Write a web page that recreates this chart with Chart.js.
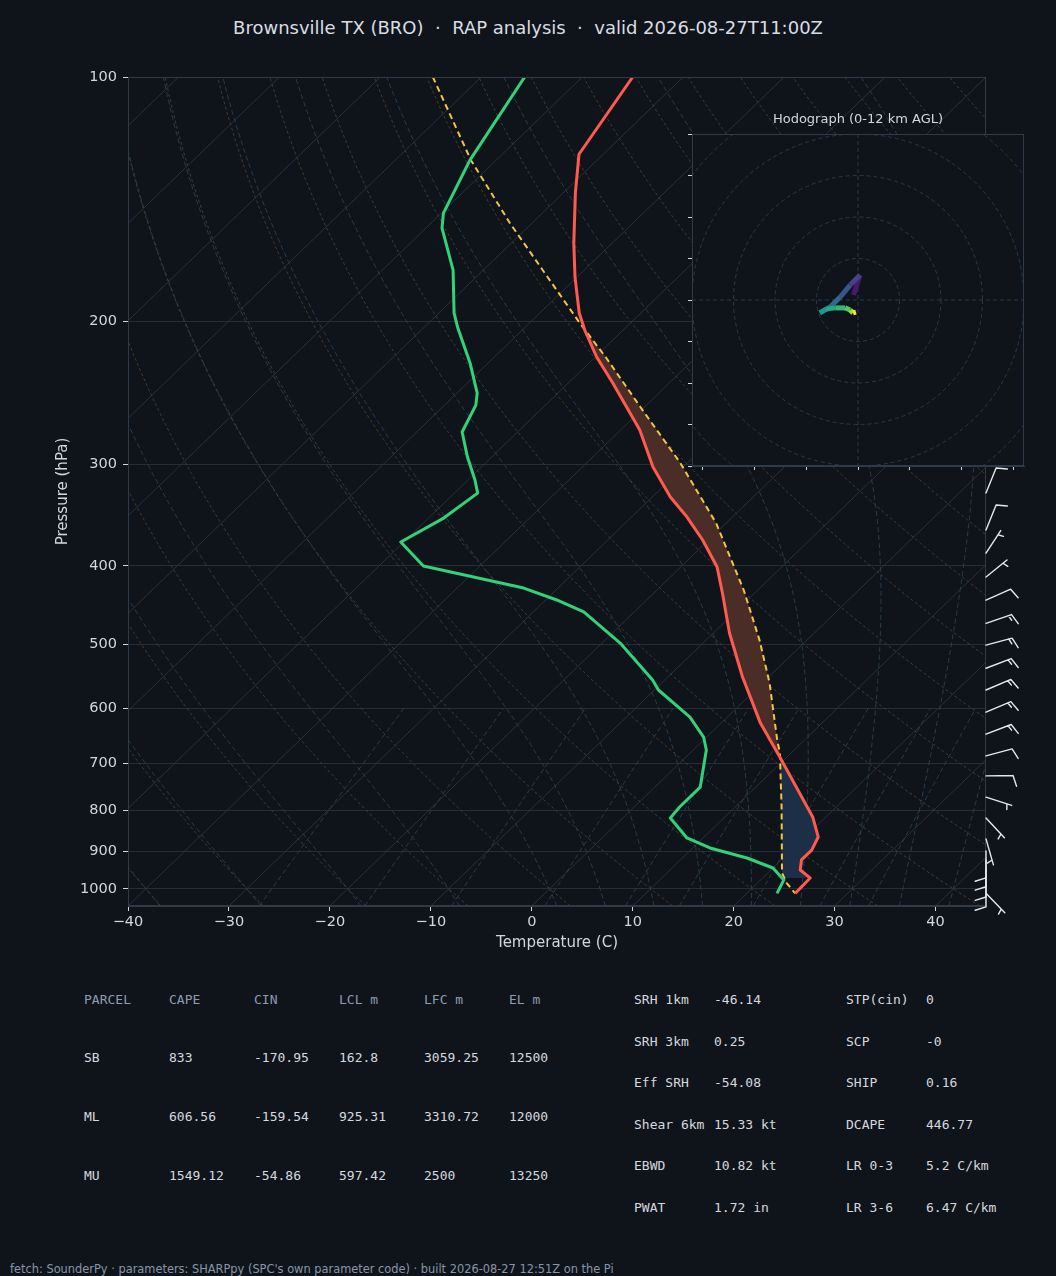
<!DOCTYPE html>
<html>
<head>
<meta charset="utf-8">
<script src="https://cdn.jsdelivr.net/npm/chart.js@4.4.1/dist/chart.umd.min.js"></script>
<style>
  html, body { margin: 0; padding: 0; background: #0f141b; }
  body { width: 1056px; height: 1276px; position: relative; overflow: hidden; font-family: "DejaVu Sans", sans-serif; }
  #titulo { position: absolute; left: 0; top: 17px; width: 1056px; text-align: center; color: #d8dde3; font-size: 18px; white-space: pre; }
  #skewt { position: absolute; left: 0; top: 0; }
  #hodo { position: absolute; left: 680px; top: 100px; }
  .celda { position: absolute; font-family: "DejaVu Sans Mono", monospace; font-size: 13px; line-height: 16px; color: #d5d9df; white-space: pre; }
  .cabecera { color: #8d9cb0; }
  #pie { position: absolute; left: 10px; top: 1262px; font-size: 11.4px; line-height: 14px; color: #8796a9; white-space: pre; }
</style>
</head>
<body>
<div id="titulo">Brownsville TX (BRO)  ·  RAP analysis  ·  valid 2026-08-27T11:00Z</div>
<canvas id="skewt" width="1056" height="960"></canvas>
<canvas id="hodo" width="360" height="380"></canvas>
<div id="tablas"></div>
<div id="pie">fetch: SounderPy · parameters: SHARPpy (SPC's own parameter code) · built 2026-08-27 12:51Z on the Pi</div>
<script>
// --- datos del sondeo ---
const tempP = [100, 124.5, 138.9, 160.2, 176.4, 195.3, 205, 221.1, 238.2, 272.2, 302.3, 329.2, 348.4, 371.8, 401.4, 432.2, 484.1, 548.4, 625, 688.2, 815.6, 863.3, 896, 921.4, 948, 969.7, 1013];
const tempC = [-75.0, -72.4, -68.8, -63.8, -60.2, -56.1, -53.8, -49.9, -45.6, -38.1, -33.0, -28.2, -24.5, -20.6, -16.4, -13.2, -8.4, -2.6, 3.9, 9.3, 18.7, 21.3, 22.0, 22.0, 22.9, 24.7, 24.8];

const dewP = [100, 126.6, 147.1, 153.5, 172.9, 195.3, 203.3, 225, 245.1, 253.6, 273.7, 293.9, 313.7, 325.5, 349.4, 373.9, 400.3, 413, 426.1, 440.8, 456, 498.1, 553.1, 569, 614.4, 650.2, 674.6, 749.4, 793, 818, 865.8, 890.6, 916.3, 942.7, 975.2, 1013];
const dewC = [-85.7, -82.6, -79.8, -78.4, -73.0, -68.5, -66.7, -61.8, -58.0, -56.9, -55.5, -52.4, -49.3, -47.7, -48.5, -50.3, -45.6, -39.5, -33.4, -28.9, -25.0, -18.2, -11.2, -9.6, -3.7, -0.3, 1.3, 4.5, 4.5, 4.7, 8.4, 11.7, 16.4, 20.0, 22.3, 23.0];

const parcelP = [100, 126.6, 151.3, 177.9, 201, 221.9, 255, 298.9, 354.4, 428.5, 493.9, 557.9, 655.8, 680.4, 793, 956, 983.8, 1013];
const parcelC = [-94.8, -82.5, -72.2, -62.4, -55.0, -48.8, -40.4, -30.7, -21.0, -11.4, -4.7, 0.7, 7.3, 8.9, 14.6, 21.4, 22.9, 24.8];

// limites de CAPE y CIN (hPa)
const capeTope = 207, capeBase = 688;
const cinTope = 688, cinBase = 970;

// barbas de viento: presion, direccion (grados), velocidad (kt)
const barbP = [325.5, 361.5, 386, 413, 441, 471, 501, 535, 569, 606, 645, 686, 726, 771, 818, 868, 898, 921, 948, 975, 1013];
const barbDir = [22, 22, 33, 51, 66, 71, 75, 69, 67, 67, 69, 75, 89, 108, 137, 164, 180, 180, 180, 180, 136];
const barbVel = [10, 10, 5, 5, 10, 15, 15, 15, 15, 15, 15, 10, 10, 5, 5, 5, 10, 10, 10, 10, 5];

// hodografa (kt) y altura (km)
const hodoU = [-1.1, -0.3, 0.5, -1.9, -4.3, -6.7, -9.2, -7.7, -5.5, -3.1, -1.9, -1.2, -0.5];
const hodoV = [1.2, 3.6, 6.0, 3.6, 0.7, -1.7, -3.1, -2.2, -1.9, -1.9, -2.4, -3.1, -2.9];
const hodoH = [0, 0.5, 1, 2, 3, 4, 5, 6, 7, 8, 9, 10.5, 12];

const ticksT = [-40, -30, -20, -10, 0, 10, 20, 30, 40];
const ticksP = [100, 200, 300, 400, 500, 600, 700, 800, 900, 1000];
const ticksHodoX = [-37.5, -25, -12.5, 0, 12.5, 25, 37.5];
const ticksHodoY = [-40, -30, -20, -10, 0, 10, 20, 30, 40];
const anillos = [10, 20, 30, 40, 50];

const cabParcela = ['PARCEL', 'CAPE', 'CIN', 'LCL m', 'LFC m', 'EL m'];
const filasParcela = [
    ['SB', '833', '-170.95', '162.8', '3059.25', '12500'],
    ['ML', '606.56', '-159.54', '925.31', '3310.72', '12000'],
    ['MU', '1549.12', '-54.86', '597.42', '2500', '13250']
];
const indicesA = [['SRH 1km', '-46.14'], ['SRH 3km', '0.25'], ['Eff SRH', '-54.08'], ['Shear 6km', '15.33 kt'], ['EBWD', '10.82 kt'], ['PWAT', '1.72 in']];
const indicesB = [['STP(cin)', '0'], ['SCP', '-0'], ['SHIP', '0.16'], ['DCAPE', '446.77'], ['LR 0-3', '5.2 C/km'], ['LR 3-6', '6.47 C/km']];

const FONDO = '#0f141b';
const TEXTO = '#d3d7dc';
const MARCO = '#2f3a48';
const viridis = ['#440154', '#481a6c', '#472f7d', '#414487', '#39568c', '#31688e', '#2a788e', '#23888e', '#1f988b', '#22a884', '#35b779', '#54c568', '#7ad151', '#a5db36', '#d2e21b', '#fde725'];

// --- geometria skew-T ---
const P_BOT = 1050, P_TOP = 100, T_MIN = -40, T_MAX = 45;
function sesgo(t, p) {
    const frac = Math.log(P_BOT / p) / Math.log(P_BOT / P_TOP);
    return t + (T_MAX - T_MIN) * frac;
}
const aPuntos = (temps, press) => temps.map((t, i) => ({ x: sesgo(t, press[i]), y: press[i] }));

function interpLogP(temps, press, p) {
    for (let i = 0; i < press.length - 1; i++) {
        if (p >= press[i] && p <= press[i + 1]) {
            const f = Math.log(p / press[i]) / Math.log(press[i + 1] / press[i]);
            return temps[i] + f * (temps[i + 1] - temps[i]);
        }
    }
    return temps[temps.length - 1];
}

function franja(pTop, pBot) {
    const lado = (temps, press) => {
        const pts = [{ x: sesgo(interpLogP(temps, press, pTop), pTop), y: pTop }];
        press.forEach((p, i) => { if (p > pTop && p < pBot) pts.push({ x: sesgo(temps[i], p), y: p }); });
        pts.push({ x: sesgo(interpLogP(temps, press, pBot), pBot), y: pBot });
        return pts;
    };
    return lado(parcelC, parcelP).concat(lado(tempC, tempP).reverse());
}

// niveles para las lineas de referencia
const nivelesP = [];
for (let i = 0; i <= 48; i++) nivelesP.push(P_BOT * Math.pow(P_TOP / P_BOT, i / 48));

const RD = 287.04749, CP = 1004.6662, LV = 2.50084e6, EPS = 0.62195;
function dTdp(p, T) {
    const es = 6.112 * Math.exp(17.67 * (T - 273.15) / (T - 29.65));
    const rs = EPS * es / (p - es);
    return (RD * T + LV * rs) / (CP + LV * LV * rs * EPS / (RD * T * T)) / p;
}
function integrar(T, pa, pb) {
    const n = Math.max(1, Math.ceil(Math.abs(pb - pa) / 4));
    const h = (pb - pa) / n;
    let p = pa;
    for (let k = 0; k < n; k++) {
        const k1 = dTdp(p, T), k2 = dTdp(p + h / 2, T + h * k1 / 2);
        const k3 = dTdp(p + h / 2, T + h * k2 / 2), k4 = dTdp(p + h, T + h * k3);
        T += h * (k1 + 2 * k2 + 2 * k3 + k4) / 6;
        p += h;
    }
    return T;
}
function adiabataHumeda(t0) {
    const abajo = nivelesP.filter(q => q > 1000).map(q => ({ x: sesgo(integrar(t0 + 273.15, 1000, q) - 273.15, q), y: q }));
    let T = t0 + 273.15, p = 1000;
    const arriba = [];
    nivelesP.filter(q => q <= 1000).forEach(q => {
        T = integrar(T, p, q); p = q;
        arriba.push({ x: sesgo(T - 273.15, q), y: q });
    });
    return abajo.concat(arriba);
}

const fondo = [];
for (let t = -120; t <= 40; t += 10) {
    fondo.push({ data: [{ x: sesgo(t, P_BOT), y: P_BOT }, { x: sesgo(t, P_TOP), y: P_TOP }], borderColor: '#2a3139', borderWidth: 1, order: 20 });
}
for (let th = -40; th <= 200; th += 10) {
    const pts = nivelesP.map(p => ({ x: sesgo((th + 273.15) * Math.pow(p / 1000, RD / CP) - 273.15, p), y: p }));
    fondo.push({ data: pts, borderColor: '#463a2d', borderWidth: 1, borderDash: [3, 2.5], order: 19 });
}
[-40, -30, -20, -10, 0, 5, 10, 15, 20, 25, 30, 35, 40, 45].forEach(t0 => {
    fondo.push({ data: adiabataHumeda(t0), borderColor: '#283c48', borderWidth: 1, borderDash: [5, 3], order: 18 });
});
[0.0004, 0.001, 0.002, 0.004, 0.007, 0.01, 0.016, 0.024, 0.032].forEach(w => {
    const pts = [1050, 1000, 950, 900, 850, 800, 750, 700, 650, 600].map(p => {
        const e = p * w / (EPS + w);
        const l = Math.log(e / 6.112);
        return { x: sesgo(243.5 * l / (17.67 - l), p), y: p };
    });
    fondo.push({ data: pts, borderColor: '#283c48', borderWidth: 1, borderDash: [5, 3], order: 17 });
});

const perfiles = [
    { data: franja(capeTope, capeBase), fill: 'shape', backgroundColor: '#4a2d26', borderWidth: 0, order: 8 },
    { data: franja(cinTope, cinBase), fill: 'shape', backgroundColor: '#1d2e47', borderWidth: 0, order: 8 },
    { data: aPuntos(parcelC, parcelP), borderColor: '#f4c542', borderWidth: 2, borderDash: [6, 4], order: 3 },
    { data: aPuntos(dewC, dewP), borderColor: '#33d17a', borderWidth: 3, order: 2 },
    { data: aPuntos(tempC, tempP), borderColor: '#ff5a4f', borderWidth: 3, order: 1 }
];

const menos = v => (v < 0 ? '\u2212' + Math.abs(v) : String(v));

const marco = {
    id: 'marco',
    afterDatasetsDraw(chart) {
        const { ctx, chartArea: a } = chart;
        ctx.save();
        ctx.strokeStyle = MARCO;
        ctx.lineWidth = 1;
        ctx.strokeRect(a.left + 0.5, a.top + 0.5, a.width - 1, a.height - 1);
        ctx.restore();
    }
};

const barbas = {
    id: 'barbas',
    afterDraw(chart) {
        const { ctx, chartArea, scales: { y } } = chart;
        const L = 27, H = 0.4 * L, W2 = 0.125 * L, ESP = 0.125 * L;
        ctx.save();
        ctx.strokeStyle = '#e6e8eb';
        ctx.lineWidth = 1.4;
        ctx.lineCap = 'round';
        ctx.lineJoin = 'round';
        barbP.forEach((p, i) => {
            const x0 = chartArea.right, y0 = y.getPixelForValue(p);
            const ang = barbDir[i] * Math.PI / 180;
            const dx = Math.sin(ang), dy = -Math.cos(ang);
            const px = -dy, py = dx;
            const en = d => [x0 + d * dx, y0 + d * dy];
            ctx.beginPath();
            ctx.moveTo(x0, y0);
            ctx.lineTo(...en(L));
            const resto = barbVel[i];
            let pos = L;
            const llenas = Math.floor(resto / 10);
            for (let k = 0; k < llenas; k++) {
                ctx.moveTo(...en(pos));
                ctx.lineTo(x0 + (pos + W2) * dx + H * px, y0 + (pos + W2) * dy + H * py);
                pos -= ESP;
            }
            if (resto % 10 >= 5) {
                if (llenas === 0) pos = L - 1.5 * ESP;
                ctx.moveTo(...en(pos));
                ctx.lineTo(x0 + (pos + W2 / 2) * dx + H / 2 * px, y0 + (pos + W2 / 2) * dy + H / 2 * py);
            }
            ctx.stroke();
        });
        ctx.restore();
    }
};

Chart.defaults.font.family = '"DejaVu Sans", sans-serif';
Chart.defaults.color = TEXTO;

new Chart(document.getElementById('skewt'), {
    type: 'line',
    data: { datasets: fondo.concat(perfiles) },
    options: {
        responsive: false,
        animation: false,
        events: [],
        layout: { padding: { top: 77, right: 70, left: 0, bottom: 0 } },
        plugins: { legend: { display: false }, tooltip: { enabled: false } },
        elements: { point: { radius: 0 }, line: { tension: 0, borderJoinStyle: 'round', fill: false } },
        scales: {
            x: {
                type: 'linear',
                min: T_MIN,
                max: T_MAX,
                afterBuildTicks: s => { s.ticks = ticksT.map(v => ({ value: v })); },
                afterFit: s => { s.height = 54; },
                ticks: { color: TEXTO, font: { size: 14.5 }, padding: 3, maxRotation: 0, callback: v => menos(v) },
                grid: { drawOnChartArea: false, tickLength: 5, tickColor: TEXTO },
                border: { color: MARCO },
                title: { display: true, text: 'Temperature (C)', color: TEXTO, font: { size: 15 }, padding: { top: 0, bottom: 8 } }
            },
            y: {
                type: 'logarithmic',
                reverse: true,
                min: P_TOP,
                max: P_BOT,
                afterBuildTicks: s => { s.ticks = ticksP.map(v => ({ value: v })); },
                afterFit: s => { s.width = 128; },
                ticks: { color: TEXTO, font: { size: 14.5 }, padding: 6, callback: v => String(v) },
                grid: { color: '#262d37', lineWidth: 1, tickLength: 5, tickColor: TEXTO },
                border: { color: MARCO },
                title: { display: true, text: 'Pressure (hPa)', color: TEXTO, font: { size: 15 }, padding: { top: 54, bottom: 0 } }
            }
        }
    },
    plugins: [marco, barbas]
});

// --- hodografa ---
const hodoFondo = {
    id: 'hodoFondo',
    beforeDatasetsDraw(chart) {
        const { ctx, chartArea: a, scales: { x, y } } = chart;
        ctx.save();
        ctx.fillStyle = FONDO;
        ctx.fillRect(a.left, a.top, a.width, a.height);
        ctx.beginPath();
        ctx.rect(a.left, a.top, a.width, a.height);
        ctx.clip();
        ctx.strokeStyle = '#2c3846';
        ctx.lineWidth = 1;
        ctx.setLineDash([4, 3]);
        const cx = x.getPixelForValue(0), cy = y.getPixelForValue(0);
        anillos.forEach(r => {
            ctx.beginPath();
            ctx.arc(cx, cy, x.getPixelForValue(r) - cx, 0, Math.PI * 2);
            ctx.stroke();
        });
        ctx.beginPath();
        ctx.moveTo(a.left, cy); ctx.lineTo(a.right, cy);
        ctx.moveTo(cx, a.top); ctx.lineTo(cx, a.bottom);
        ctx.stroke();
        ctx.restore();
    },
    afterDraw(chart) {
        const { ctx, chartArea: a } = chart;
        ctx.save();
        ctx.strokeStyle = MARCO;
        ctx.lineWidth = 1;
        ctx.strokeRect(a.left + 0.5, a.top + 0.5, a.width - 1, a.height - 1);
        ctx.fillStyle = TEXTO;
        ctx.font = '13px "DejaVu Sans", sans-serif';
        ctx.textAlign = 'center';
        ctx.textBaseline = 'middle';
        ctx.fillText('Hodograph (0-12 km AGL)', (a.left + a.right) / 2, a.top - 14);
        ctx.restore();
    }
};

const colorAltura = h => viridis[Math.min(viridis.length - 1, Math.round(h / 12 * (viridis.length - 1)))];

new Chart(document.getElementById('hodo'), {
    type: 'scatter',
    data: {
        datasets: [{
            data: hodoU.map((u, i) => ({ x: u, y: hodoV[i] })),
            showLine: true,
            borderWidth: 5,
            pointRadius: 0,
            borderCapStyle: 'butt',
            borderJoinStyle: 'round',
            segment: { borderColor: c => colorAltura(hodoH[c.p1DataIndex]) }
        }]
    },
    options: {
        responsive: false,
        animation: false,
        events: [],
        layout: { padding: { left: 8, top: 34, right: 16, bottom: 10 } },
        plugins: { legend: { display: false }, tooltip: { enabled: false } },
        scales: {
            x: {
                min: -40, max: 40,
                afterBuildTicks: s => { s.ticks = ticksHodoX.map(v => ({ value: v })); },
                afterFit: s => { s.height = 4; },
                ticks: { display: false },
                grid: { drawOnChartArea: false, tickLength: 4, tickColor: TEXTO },
                border: { color: MARCO }
            },
            y: {
                min: -40, max: 40,
                afterBuildTicks: s => { s.ticks = ticksHodoY.map(v => ({ value: v })); },
                afterFit: s => { s.width = 4; },
                ticks: { display: false },
                grid: { drawOnChartArea: false, tickLength: 4, tickColor: TEXTO },
                border: { color: MARCO }
            }
        }
    },
    plugins: [hodoFondo]
});

// --- tablas de parametros ---
const tablas = document.getElementById('tablas');
function celda(texto, x, yc, clase) {
    const s = document.createElement('div');
    s.className = 'celda' + (clase ? ' ' + clase : '');
    s.textContent = texto;
    s.style.left = x + 'px';
    s.style.top = (yc - 8) + 'px';
    tablas.appendChild(s);
}
const colsParcela = [84, 169, 254, 339, 424, 509];
cabParcela.forEach((t, j) => celda(t, colsParcela[j], 1000, 'cabecera'));
filasParcela.forEach((fila, i) => fila.forEach((t, j) => celda(t, colsParcela[j], 1058 + i * 59, '')));
indicesA.forEach((par, i) => { celda(par[0], 634, 1000 + i * 41.5, ''); celda(par[1], 714, 1000 + i * 41.5, ''); });
indicesB.forEach((par, i) => { celda(par[0], 846, 1000 + i * 41.5, ''); celda(par[1], 926, 1000 + i * 41.5, ''); });
</script>
</body>
</html>
